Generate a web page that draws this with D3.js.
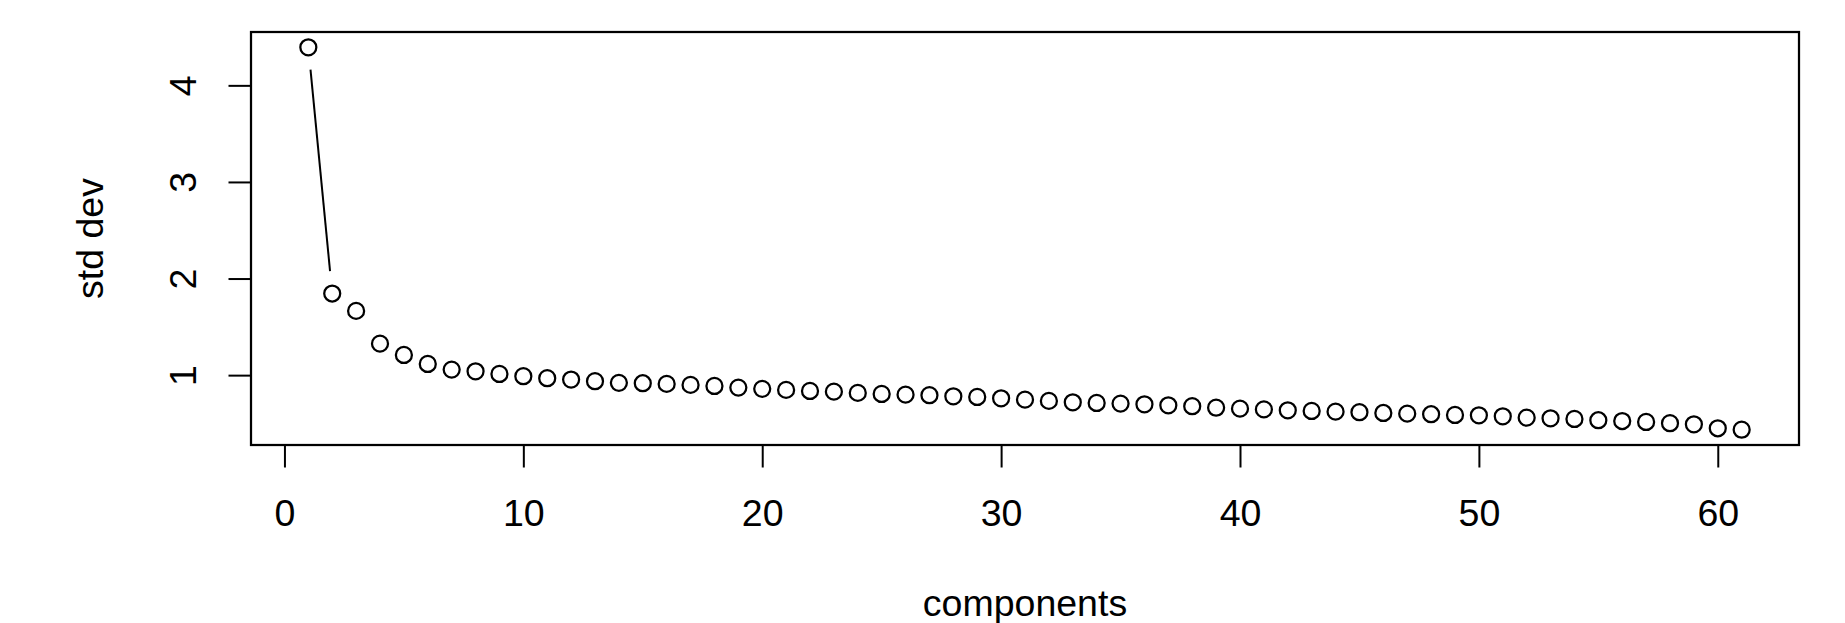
<!DOCTYPE html>
<html>
<head>
<meta charset="utf-8">
<script src="https://cdn.jsdelivr.net/npm/d3@7"></script>
<style>
  body { margin: 0; background: #fff; }
  text { font-family: "Liberation Sans", Arial, sans-serif; fill: #000; }
</style>
</head>
<body>
<div class="canvas"></div>
<script>
// scree plot data: component index and its standard deviation
const components = [
  1, 2, 3, 4, 5, 6, 7, 8, 9, 10, 11, 12, 13, 14, 15, 16, 17, 18, 19, 20,
  21, 22, 23, 24, 25, 26, 27, 28, 29, 30, 31, 32, 33, 34, 35, 36, 37, 38, 39, 40,
  41, 42, 43, 44, 45, 46, 47, 48, 49, 50, 51, 52, 53, 54, 55, 56, 57, 58, 59, 60, 61
];
const stdDev = [
  4.394, 1.845, 1.665, 1.326, 1.209, 1.116, 1.057, 1.04, 1.012, 0.989,
  0.968, 0.954, 0.937, 0.92, 0.916, 0.909, 0.899, 0.888, 0.871, 0.858,
  0.847, 0.836, 0.829, 0.816, 0.805, 0.798, 0.792, 0.781, 0.774, 0.76,
  0.746, 0.733, 0.719, 0.712, 0.705, 0.698, 0.688, 0.678, 0.663, 0.653,
  0.645, 0.636, 0.629, 0.622, 0.616, 0.608, 0.601, 0.595, 0.588, 0.584,
  0.574, 0.56, 0.553, 0.546, 0.533, 0.525, 0.515, 0.502, 0.491, 0.45, 0.435
];
const xTicks = [0, 10, 20, 30, 40, 50, 60];
const yTicks = [1, 2, 3, 4];

const W = 1845, H = 623;
const margin = { top: 32, right: 46, bottom: 178, left: 251 };
const width = W - margin.left - margin.right;
const height = H - margin.top - margin.bottom;
const fontSize = 37.5;
const tickLen = 22.5;

const svg = d3.select(".canvas")
  .append("svg")
  .attr("width", W)
  .attr("height", H);

const g = svg.append("g")
  .attr("transform", `translate(${margin.left},${margin.top})`);

// R style 4% padding around the data range
const pad = (ext) => {
  const r = ext[1] - ext[0];
  return [ext[0] - 0.04 * r, ext[1] + 0.04 * r];
};

const x = d3.scaleLinear().domain(pad(d3.extent(components))).range([0, width]);
const y = d3.scaleLinear().domain(pad(d3.extent(stdDev))).range([height, 0]);

const data = components.map((c, i) => ({ c, v: stdDev[i] }));

// axes
const xAxis = g.append("g")
  .attr("transform", `translate(0,${height})`)
  .call(d3.axisBottom(x).tickValues(xTicks).tickSize(tickLen).tickFormat(d3.format("d")));
xAxis.select(".domain").remove();
xAxis.selectAll("line").attr("stroke-width", 2);
xAxis.selectAll("text")
  .attr("y", 81)
  .attr("dy", null)
  .attr("font-size", fontSize)
  .style("font-family", "Liberation Sans, Arial, sans-serif");

const yAxis = g.append("g")
  .call(d3.axisLeft(y).tickValues(yTicks).tickSize(tickLen).tickFormat(d3.format("d")));
yAxis.select(".domain").remove();
yAxis.selectAll("line").attr("stroke-width", 2);
yAxis.selectAll("text")
  .attr("x", null)
  .attr("dy", null)
  .attr("text-anchor", "middle")
  .attr("font-size", fontSize)
  .style("font-family", "Liberation Sans, Arial, sans-serif")
  .attr("transform", "translate(-55,0) rotate(-90)");

// box
g.append("rect")
  .attr("width", width)
  .attr("height", height)
  .attr("fill", "none")
  .attr("stroke", "#000")
  .attr("stroke-width", 2.25);

// type = "b": segments only where they fit between the circles
const gap = 22.5;
const segs = [];
for (let i = 1; i < data.length; i++) {
  const x0 = x(data[i - 1].c), y0 = y(data[i - 1].v);
  const x1 = x(data[i].c), y1 = y(data[i].v);
  const d = Math.hypot(x1 - x0, y1 - y0);
  if (d > 2 * gap) {
    const ux = (x1 - x0) / d, uy = (y1 - y0) / d;
    segs.push([x0 + ux * gap, y0 + uy * gap, x1 - ux * gap, y1 - uy * gap]);
  }
}
g.selectAll(".seg")
  .data(segs)
  .join("line")
  .attr("class", "seg")
  .attr("x1", (d) => d[0])
  .attr("y1", (d) => d[1])
  .attr("x2", (d) => d[2])
  .attr("y2", (d) => d[3])
  .attr("stroke", "#000")
  .attr("stroke-width", 2);

g.selectAll(".pt")
  .data(data)
  .join("circle")
  .attr("class", "pt")
  .attr("cx", (d) => x(d.c))
  .attr("cy", (d) => y(d.v))
  .attr("r", 8)
  .attr("fill", "none")
  .attr("stroke", "#000")
  .attr("stroke-width", 2.25);

// axis titles
svg.append("text")
  .attr("x", margin.left + width / 2)
  .attr("y", 616)
  .attr("text-anchor", "middle")
  .attr("font-size", fontSize)
  .text("components");

svg.append("text")
  .attr("transform", `translate(103,${margin.top + height / 2}) rotate(-90)`)
  .attr("text-anchor", "middle")
  .attr("font-size", fontSize)
  .text("std dev");
</script>
</body>
</html>
